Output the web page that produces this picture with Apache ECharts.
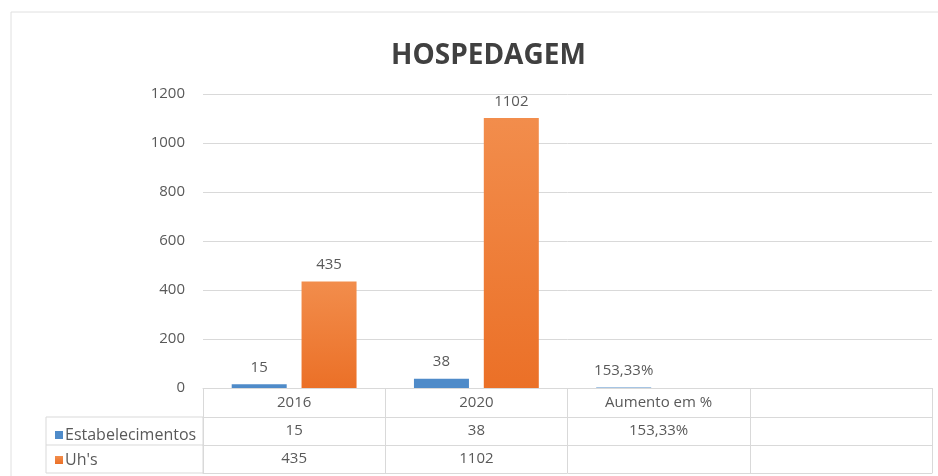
<!DOCTYPE html>
<html>
<head>
<meta charset="utf-8">
<script src="https://cdn.jsdelivr.net/npm/echarts@6/dist/echarts.min.js"></script>
<style>
    html, body { margin: 0; padding: 0; background: #fff; }
    #chart { width: 938px; height: 476px; }
</style>
</head>
<body>
<div id="chart"></div>
<script>
    // dados do grafico
    var categorias = ['2016', '2020', 'Aumento em %', ''];
    var estabelecimentos = [15, 38, 1.5333, null];
    var uhs = [435, 1102, null, null];
    // linhas da tabela
    var tabelaEstab = ['15', '38', '153,33%', ''];
    var tabelaUhs = ['435', '1102', '', ''];
    var yTicks = [0, 200, 400, 600, 800, 1000, 1200];

    var fonte = 'Open Sans';
    var cinza = '#595959';
    var linha = '#d9d9d9';

    var chart = echarts.init(document.getElementById('chart'));

    var option = {
        backgroundColor: '#fff',
        textStyle: { fontFamily: fonte },
        title: {
            text: 'HOSPEDAGEM',
            left: 386,
            top: 37,
            textStyle: { fontFamily: fonte, fontSize: 28, fontWeight: 'bold', color: '#404040' }
        },
        legend: {
            orient: 'vertical',
            left: 50,
            top: 422,
            itemWidth: 8,
            itemHeight: 8,
            itemGap: 9,
            icon: 'rect',
            data: ['Estabelecimentos', "Uh's"],
            textStyle: { fontFamily: fonte, fontSize: 16, color: cinza, padding: [0, 0, 0, -3] }
        },
        grid: { left: 203, right: 6, top: 94, bottom: 88 },
        xAxis: [
            {
                type: 'category',
                data: categorias,
                axisLine: { lineStyle: { color: linha } },
                axisTick: { show: true, length: 85, lineStyle: { color: linha } },
                axisLabel: { margin: 7, fontSize: 15, color: cinza, fontFamily: fonte }
            },
            {
                type: 'category',
                data: tabelaEstab,
                position: 'bottom',
                offset: 29,
                axisLine: { lineStyle: { color: linha } },
                axisTick: { show: false },
                axisLabel: { margin: 6, fontSize: 15, color: cinza, fontFamily: fonte }
            },
            {
                type: 'category',
                data: tabelaUhs,
                position: 'bottom',
                offset: 57,
                axisLine: { lineStyle: { color: linha } },
                axisTick: { show: false },
                axisLabel: { margin: 6, fontSize: 15, color: cinza, fontFamily: fonte }
            },
            {
                type: 'category',
                data: ['', '', '', ''],
                position: 'bottom',
                offset: 85,
                axisLine: { lineStyle: { color: linha } },
                axisTick: { show: false },
                axisLabel: { show: false }
            }
        ],
        yAxis: {
            type: 'value',
            min: yTicks[0],
            max: yTicks[yTicks.length - 1],
            interval: 200,
            axisLine: { show: false },
            axisTick: { show: false },
            axisLabel: {
                margin: 18, fontSize: 15, color: cinza, fontFamily: fonte,
                formatter: function (v) { return String(v); }
            },
            splitLine: { lineStyle: { color: linha } }
        },
        graphic: [
            {
                type: 'rect',
                shape: { x: 11, y: 12, width: 940, height: 470 },
                style: { fill: 'none', stroke: '#e0e0e0', lineWidth: 1 },
                z: -1
            },
            {
                type: 'rect',
                shape: { x: 46, y: 417, width: 157, height: 56 },
                style: { fill: 'none', stroke: linha, lineWidth: 1 }
            },
            {
                type: 'line',
                shape: { x1: 46, y1: 445, x2: 203, y2: 445 },
                style: { stroke: linha, lineWidth: 1 }
            }
        ],
        series: [
            {
                name: 'Estabelecimentos',
                type: 'bar',
                data: estabelecimentos,
                barWidth: 55,
                barGap: '27%',
                itemStyle: { color: '#4f8bc9' },
                label: {
                    show: true,
                    position: 'top',
                    distance: 9,
                    fontSize: 15,
                    color: cinza,
                    fontFamily: fonte,
                    formatter: function (p) { return tabelaEstab[p.dataIndex]; }
                }
            },
            {
                name: "Uh's",
                type: 'bar',
                data: uhs,
                barWidth: 55,
                barGap: '27%',
                itemStyle: {
                    color: new echarts.graphic.LinearGradient(0, 0, 0, 1, [
                        { offset: 0, color: '#f28d4c' },
                        { offset: 1, color: '#eb7027' }
                    ])
                },
                label: {
                    show: true,
                    position: 'top',
                    distance: 9,
                    fontSize: 15,
                    color: cinza,
                    fontFamily: fonte
                }
            }
        ]
    };

    chart.setOption(option);
</script>
</body>
</html>
